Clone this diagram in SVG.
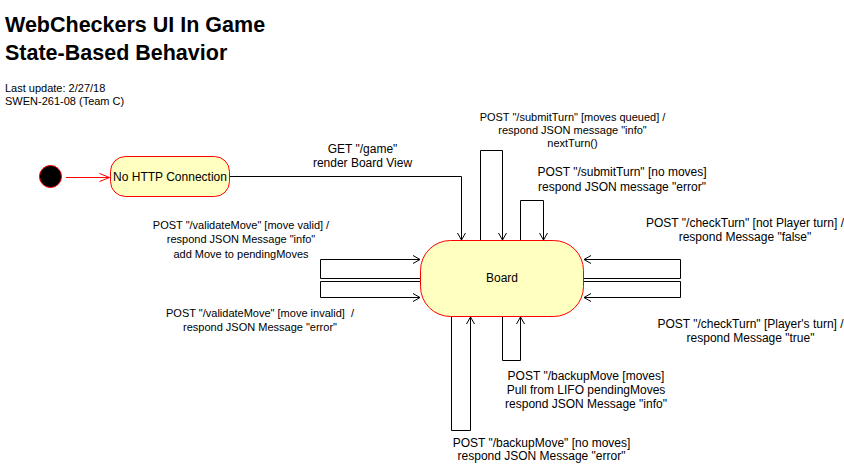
<svg xmlns="http://www.w3.org/2000/svg" width="844" height="464" viewBox="0 0 844 464">
<style>
text{font-family:"Liberation Sans",Arial,sans-serif;fill:#000}
.t{font-size:21.5px;font-weight:bold}
.s{font-size:11px}
.m{font-size:12px}
.c{text-anchor:middle}
.e{fill:none;stroke:#000;stroke-width:1}
.st{fill:#ffffc0;stroke:#ff0000;stroke-width:1}
</style>
<defs>
<marker id="a" markerUnits="userSpaceOnUse" markerWidth="12" markerHeight="12" refX="0" refY="0" viewBox="-9 -6 12 12" orient="auto" overflow="visible">
<path d="M-7,-4 L0,0 L-7,4" fill="none" stroke="#000" stroke-width="1"/>
</marker>
<marker id="ar" markerUnits="userSpaceOnUse" markerWidth="12" markerHeight="12" refX="0" refY="0" viewBox="-9 -6 12 12" orient="auto" overflow="visible">
<path d="M-10,-4 L0,0 L-10,4" fill="none" stroke="#ff0000" stroke-width="1"/>
</marker>
</defs>
<rect width="844" height="464" fill="#fff"/>
<g id="header">
<text class="t" x="5" y="32">WebCheckers UI In Game</text>
<text class="t" x="5" y="60">State-Based Behavior</text>
<text class="s" x="5" y="92">Last update: 2/27/18</text>
<text class="s" x="5" y="104.5">SWEN-261-08 (Team C)</text>
</g>
<g id="connectors">
<path d="M66,177.5 H109.5" fill="none" stroke="#ff0000" marker-end="url(#ar)"/>
<path class="e" d="M230,176.5 H461.5 V240" marker-end="url(#a)"/>
<path class="e" d="M480.5,240 V150.5 H502.5 V240" marker-end="url(#a)"/>
<path class="e" d="M520.5,240 V200.5 H543.5 V240" marker-end="url(#a)"/>
<path class="e" d="M420,278.5 H320.5 V259.5 H420" marker-end="url(#a)"/>
<path class="e" d="M420,281.5 H320.5 V297.5 H420" marker-end="url(#a)"/>
<path class="e" d="M584,278.5 H680.5 V259.5 H584" marker-end="url(#a)"/>
<path class="e" d="M584,281.5 H680.5 V297.5 H584" marker-end="url(#a)"/>
<path class="e" d="M451.5,317 V430.5 H470.5 V317" marker-end="url(#a)"/>
<path class="e" d="M502.5,317 V360.5 H520.5 V317" marker-end="url(#a)"/>
</g>
<g id="labels">
<text class="m c" x="362.5" y="152.5">GET "/game"</text>
<text class="m c" x="362.5" y="166.5">render Board View</text>
<text class="s c" x="572.5" y="121">POST "/submitTurn" [moves queued] /</text>
<text class="s c" x="572.5" y="134">respond JSON message "info"</text>
<text class="s c" x="572.5" y="147">nextTurn()</text>
<text class="m c" x="622" y="176">POST "/submitTurn" [no moves]</text>
<text class="m c" x="622" y="190.5">respond JSON message "error"</text>
<text class="m c" x="745" y="226.5">POST "/checkTurn" [not Player turn] /</text>
<text class="m c" x="745" y="240.5">respond Message "false"</text>
<text class="s c" x="241" y="229">POST "/validateMove" [move valid] /</text>
<text class="s c" x="241" y="243.3">respond JSON Message "info"</text>
<text class="s c" x="241" y="257.5">add Move to pendingMoves</text>
<text class="s c" x="260" y="317.3">POST "/validateMove" [move invalid]&#160; /</text>
<text class="s c" x="260" y="330.7">respond JSON Message "error"</text>
<text class="m c" x="750.5" y="328.3">POST "/checkTurn" [Player's turn] /</text>
<text class="m c" x="750.5" y="342.3">respond Message "true"</text>
<text class="m c" x="586" y="380">POST "/backupMove [moves]</text>
<text class="m c" x="586" y="394">Pull from LIFO pendingMoves</text>
<text class="m c" x="586" y="408">respond JSON Message "info"</text>
<text class="m c" x="541.5" y="446.7">POST "/backupMove" [no moves]</text>
<text class="m c" x="541.5" y="460">respond JSON Message "error"</text>
</g>
<g id="initial">
<circle cx="50.5" cy="176.5" r="11" fill="#000" stroke="#ff0000" stroke-width="1"/>
</g>
<g id="noHttp">
<rect class="st" x="110.5" y="156.5" width="119" height="40" rx="15" ry="15"/>
<text class="m c" x="170" y="180.5">No HTTP Connection</text>
</g>
<g id="board">
<rect class="st" x="420.5" y="240.5" width="163" height="76" rx="30" ry="30"/>
<text class="m c" x="502" y="282">Board</text>
</g>
</svg>
